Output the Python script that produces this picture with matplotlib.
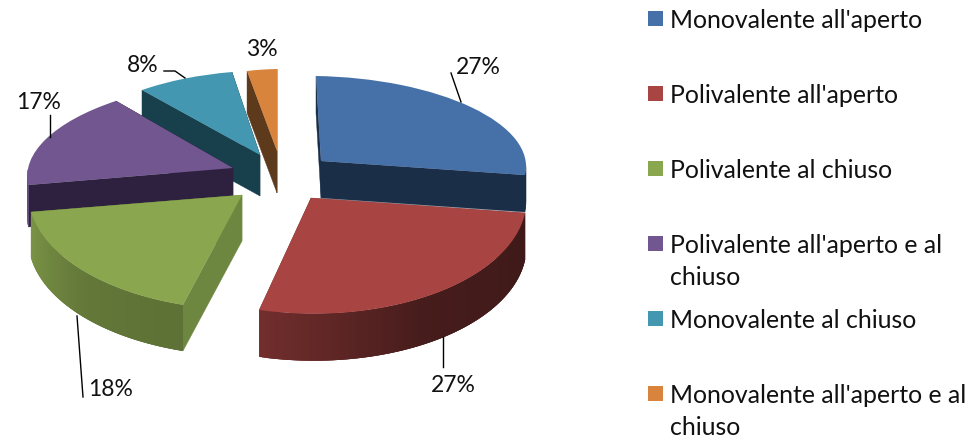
import numpy as np
import matplotlib
matplotlib.use('Agg')
import matplotlib.pyplot as plt
from matplotlib.patches import Rectangle
from matplotlib.transforms import Affine2D

plt.rcParams['font.family'] = ['Lato', 'DejaVu Sans']

# Dati
labels = ["Monovalente all'aperto", "Polivalente all'aperto", "Polivalente al chiuso",
          "Polivalente all'aperto e al\nchiuso", "Monovalente al chiuso",
          "Monovalente all'aperto e al\nchiuso"]
values = [27, 27, 18, 17, 8, 3]
value_labels = ['27%', '27%', '18%', '17%', '8%', '3%']
colors = ['#4671A8', '#A84442', '#8AA64F', '#71568F', '#4397B0', '#D9843D']
wall_colors = ['#1A2E48', '#7A2E2C', '#6E8740', '#2E2140', '#173F4C', '#5E3A1C']

# Proiezione di ogni fetta (matrice 2x2 in pixel, centro, spessore)
apex = [(321, 162), (311, 199), (242, 196), (233, 169), (260, 156), (277, 152)]
proj = [(205, -5, 3.4, -85), (215.5, -1.9, 0.5, -115.7), (213.6, 6.1, 4.6, -114.7),
        (205, 17.6, -0.6, -87.5), (195.9, 8.9, -0.2, -84.5), (160, 0, -2.9, -82)]
depth = [37, 47, 46, 42, 41, 42]
draw_order = [5, 4, 0, 3, 2, 1]

# Posizione delle etichette e delle linee guida
label_pos = [(478, 67), (453, 386), (111, 390), (39, 103), (143, 66), (262, 49)]
leaders = [([451, 461], [74, 103]), ([443, 443], [338, 368]), ([77, 83], [317, 398]),
           ([50, 50], [116, 138]), ([164, 175, 185], [72, 72, 79]), None]
legend_y = [27, 102, 177, 252, 327, 402]
legend_line = 32

fig = plt.figure(figsize=(9.72, 4.39), dpi=100)
ax = fig.add_axes([0, 0, 1, 1])
wedges, _ = ax.pie(values, colors=colors, startangle=90, counterclock=False,
                   wedgeprops={'linewidth': 0})
ax.set_aspect('auto')
ax.set_xlim(0, 972)
ax.set_ylim(439, 0)
ax.axis('off')


def rim_shade(theta):
    return np.interp(-theta, [0, 60, 105, 135, 170], [0.36, 0.42, 0.68, 0.72, 0.9])


z = 2
for i in draw_order:
    w = wedges[i]
    a, b, c, d = proj[i]
    x0, y0 = apex[i]
    h = depth[i]
    m = Affine2D(np.array([[a, b, x0], [c, d, y0], [0, 0, 1]]))

    # pareti radiali
    for t in (w.theta1, w.theta2):
        px, py = m.transform((np.cos(np.radians(t)), np.sin(np.radians(t))))
        ax.fill([x0, px, px, x0], [y0, py, py + h, y0 + h], color=wall_colors[i],
                lw=0.3, zorder=z)
        z += 1

    # bordo esterno, solo la parte davanti; ogni tratto copre il giunto del precedente
    ts = np.linspace(w.theta1, w.theta2, 121)
    pts = m.transform(np.column_stack([np.cos(np.radians(ts)), np.sin(np.radians(ts))]))
    base = np.array(matplotlib.colors.to_rgb(colors[i]))
    for k in range(len(ts) - 1):
        tm = (ts[k] + ts[k + 1]) / 2
        if np.sin(np.radians(tm)) >= 0:
            continue
        e = min(k + 3, len(ts) - 1)
        xs = list(pts[k:e + 1, 0]) + list(pts[k:e + 1, 0][::-1])
        ys = list(pts[k:e + 1, 1]) + list(pts[k:e + 1, 1][::-1] + h)
        ax.fill(xs, ys, color=base * rim_shade(tm), lw=0, zorder=z)
    z += 1

    # faccia superiore
    w.set_transform(m + ax.transData)
    w.set_zorder(z)
    z += 1

for i, txt in enumerate(value_labels):
    ax.text(label_pos[i][0], label_pos[i][1], txt, fontsize=16.5, color='#111111',
            ha='center', va='center', zorder=z)
    if leaders[i] is not None:
        ax.plot(leaders[i][0], leaders[i][1], color='black', lw=1.0, zorder=z)

# Legenda
for i, lab in enumerate(labels):
    ax.add_patch(Rectangle((648, legend_y[i] - 15), 15, 15, facecolor=colors[i],
                           edgecolor='none', zorder=z))
    for k, line in enumerate(lab.split('\n')):
        ax.text(670, legend_y[i] + 1 + k * legend_line, line, fontsize=17.9, color='#111111',
                ha='left', va='baseline', zorder=z)

fig.savefig('out.png', dpi=100)
